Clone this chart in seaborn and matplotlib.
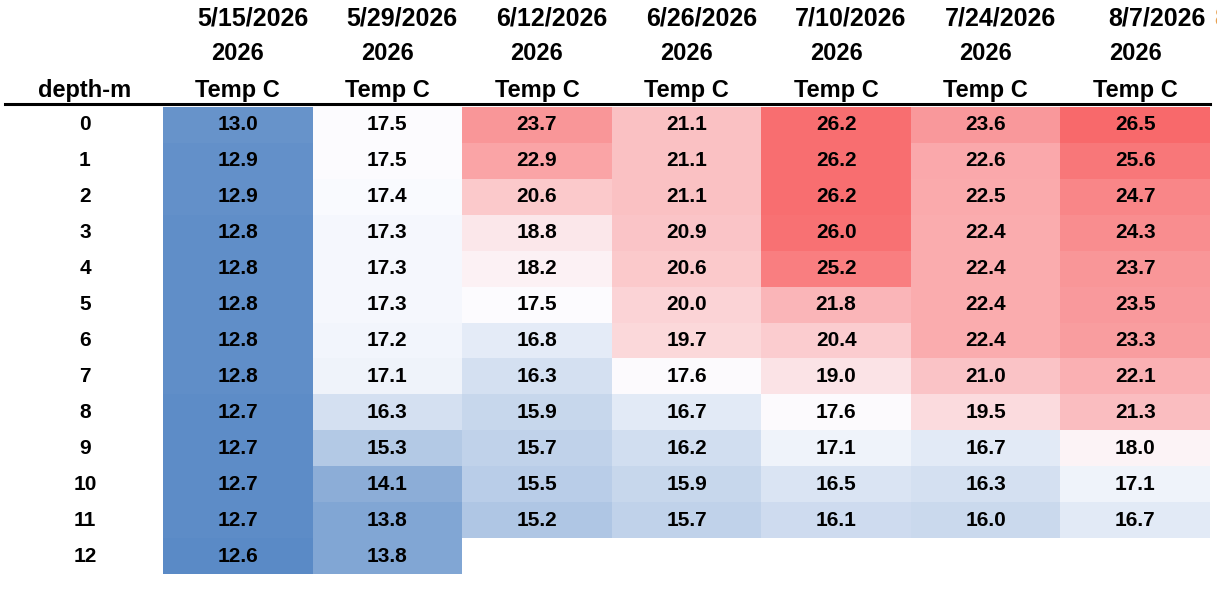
import numpy as np
import pandas as pd
import seaborn as sb
import matplotlib.pyplot as plt
from matplotlib.colors import LinearSegmentedColormap, TwoSlopeNorm
from matplotlib.lines import Line2D
import matplotlib.transforms as mtransforms

dates = ["5/15/2026", "5/29/2026", "6/12/2026", "6/26/2026", "7/10/2026", "7/24/2026", "8/7/2026"]
years = ["2026"] * 7
depths = list(range(13))
nan = np.nan

t_0515 = [13.0, 12.9, 12.9, 12.8, 12.8, 12.8, 12.8, 12.8, 12.7, 12.7, 12.7, 12.7, 12.6]
t_0529 = [17.5, 17.5, 17.4, 17.3, 17.3, 17.3, 17.2, 17.1, 16.3, 15.3, 14.1, 13.8, 13.8]
t_0612 = [23.7, 22.9, 20.6, 18.8, 18.2, 17.5, 16.8, 16.3, 15.9, 15.7, 15.5, 15.2, nan]
t_0626 = [21.1, 21.1, 21.1, 20.9, 20.6, 20.0, 19.7, 17.6, 16.7, 16.2, 15.9, 15.7, nan]
t_0710 = [26.2, 26.2, 26.2, 26.0, 25.2, 21.8, 20.4, 19.0, 17.6, 17.1, 16.5, 16.1, nan]
t_0724 = [23.6, 22.6, 22.5, 22.4, 22.4, 22.4, 22.4, 21.0, 19.5, 16.7, 16.3, 16.0, nan]
t_0807 = [26.5, 25.6, 24.7, 24.3, 23.7, 23.5, 23.3, 22.1, 21.3, 18.0, 17.1, 16.7, nan]

df = pd.DataFrame(
    np.array([t_0515, t_0529, t_0612, t_0626, t_0710, t_0724, t_0807]).T,
    index=depths, columns=dates)

# excel style 3-colour scale: min / 50th percentile / max
vals = df.values[~np.isnan(df.values)]
cmap = LinearSegmentedColormap.from_list("xl", ["#5A8AC6", "#FCFCFF", "#F8696B"])
norm = TwoSlopeNorm(vmin=vals.min(), vcenter=np.percentile(vals, 50), vmax=vals.max())

plt.rcParams['font.family'] = ['Liberation Sans', 'DejaVu Sans']
W, H = 1217, 592
fig = plt.figure(figsize=(W / 100, H / 100), dpi=100)
ax = fig.add_axes([163 / W, 1 - 574 / H, (1210 - 163) / W, (574 - 107) / H])

sb.heatmap(df, ax=ax, cmap=cmap, norm=norm, cbar=False, annot=True, fmt=".1f",
           annot_kws={"color": "black", "fontsize": 15, "fontweight": "bold"})
ax.set_xticks([])
ax.set_yticks([])
ax.set_xlabel("")
ax.set_ylabel("")
for s in ax.spines.values():
    s.set_visible(False)

# header
hdr = mtransforms.blended_transform_factory(ax.transData, fig.transFigure)
for i, (d, y) in enumerate(zip(dates, years)):
    ax.text(i + 0.97, 1 - 25 / H, d, transform=hdr, ha="right", va="baseline",
            fontsize=18, fontweight="bold", clip_on=False)
    ax.text(i + 0.5, 1 - 60 / H, y, transform=hdr, ha="center", va="baseline",
            fontsize=17, fontweight="bold", clip_on=False)
    ax.text(i + 0.5, 1 - 97 / H, "Temp C", transform=hdr, ha="center", va="baseline",
            fontsize=17, fontweight="bold", clip_on=False)
# next column's date, cut off by the right edge as in the sheet
fig.text(1214 / W, 1 - 25 / H, "8/21/2026", ha="left", va="baseline",
         fontsize=18, fontweight="bold", color="#E8A050")

# row labels
lbl = mtransforms.blended_transform_factory(fig.transFigure, ax.transData)
fig.text(85 / W, 1 - 97 / H, "depth-m", ha="center", va="baseline",
         fontsize=17, fontweight="bold")
for r, dep in enumerate(depths):
    ax.text(85 / W, r + 0.5, str(dep), transform=lbl, ha="center", va="center",
            fontsize=15, fontweight="bold", clip_on=False)

fig.add_artist(Line2D([5 / W, 1210 / W], [1 - 104 / H] * 2, color="black", lw=2.2))

fig.savefig("out.png", dpi=100)
